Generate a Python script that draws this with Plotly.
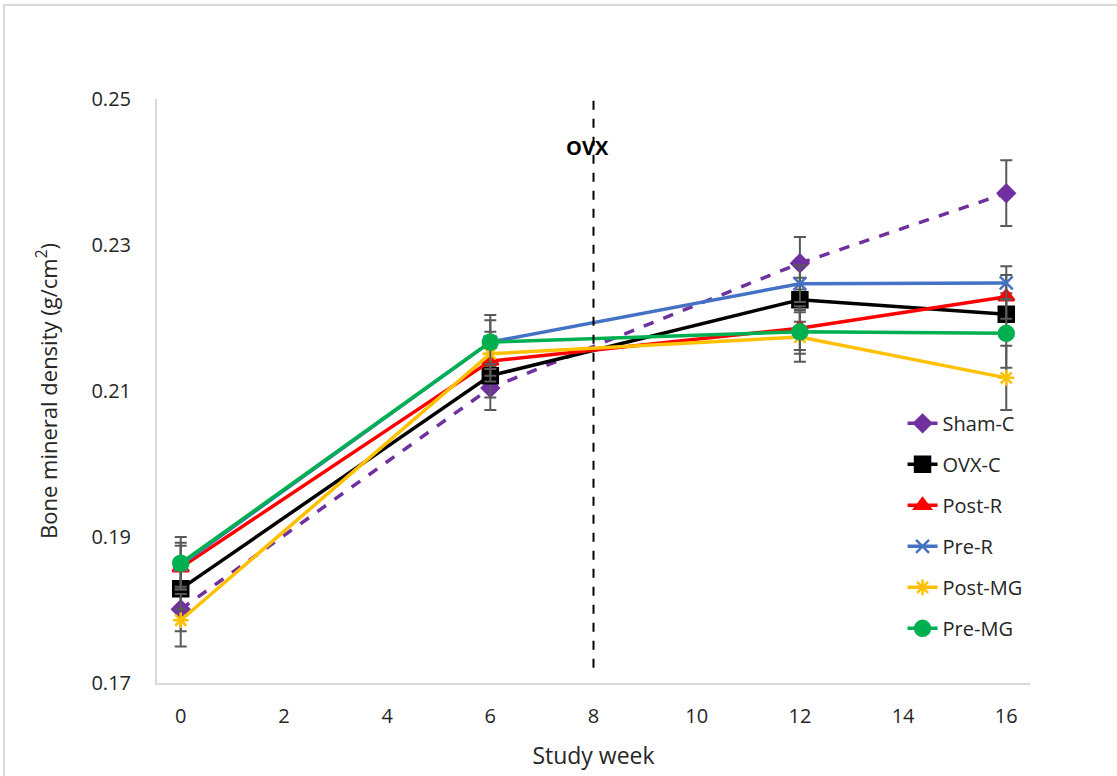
import plotly.graph_objects as go

# Study weeks at which BMD was measured
weeks = [0, 6, 12, 16]

# Mean bone mineral density (g/cm^2) per group
sham_c = [0.1801, 0.2104, 0.2275, 0.2371]
ovx_c = [0.1829, 0.2121, 0.2225, 0.2205]
post_r = [0.1858, 0.2141, 0.2186, 0.2229]
pre_r = [0.1862, 0.2167, 0.2247, 0.2248]
post_mg = [0.1786, 0.2151, 0.2174, 0.2118]
pre_mg = [0.1864, 0.2167, 0.2181, 0.2179]

# Standard errors per group
sham_c_err = [0.0030, 0.0030, 0.0036, 0.0045]
ovx_c_err = [0.0028, 0.0030, 0.0030, 0.0029]
post_r_err = [0.0030, 0.0028, 0.0030, 0.0030]
pre_r_err = [0.0030, 0.0030, 0.0025, 0.0023]
post_mg_err = [0.0036, 0.0030, 0.0034, 0.0044]
pre_mg_err = [0.0036, 0.0037, 0.0030, 0.0047]

ovx_week = 8
ovx_label = "OVX"

series = [
    ("Sham-C", sham_c, sham_c_err, "#7030A0", "diamond", 13, "dash"),
    ("OVX-C", ovx_c, ovx_c_err, "#000000", "square", 15, "solid"),
    ("Post-R", post_r, post_r_err, "#FF0000", "triangle-up", 14, "solid"),
    ("Pre-R", pre_r, pre_r_err, "#4472C4", "x-thin-open", 13, "solid"),
    ("Post-MG", post_mg, post_mg_err, "#FFC000", "asterisk-open", 13, "solid"),
    ("Pre-MG", pre_mg, pre_mg_err, "#00B050", "circle", 15, "solid"),
]

fig = go.Figure()
for name, vals, errs, color, symbol, size, dash in series:
    fig.add_trace(go.Scatter(
        x=weeks, y=vals, name=name, legendgroup=name, mode="lines+markers",
        line=dict(color=color, width=3.5, dash=dash),
        marker=dict(symbol=symbol, size=size, color=color,
                    line=dict(color=color, width=2.5)),
        error_y=dict(type="data", array=errs, visible=True,
                     color="#595959", thickness=2, width=6),
    ))

# OVX surgery marker
fig.add_shape(type="line", xref="x", yref="paper",
              x0=ovx_week, x1=ovx_week, y0=0.026, y1=1.012,
              line=dict(color="#000000", width=2, dash="dash"))
fig.add_annotation(x=ovx_week, y=0.2434, xref="x", yref="y",
                   text="<b>" + ovx_label + "</b>", showarrow=False,
                   font=dict(size=20, color="#000000"), xanchor="right",
                   xshift=17)

# light chart-area frame
fig.add_shape(type="rect", xref="paper", yref="paper",
              x0=-0.1753, x1=1.3, y0=-0.3, y1=1.161,
              line=dict(color="#D9D9D9", width=2), layer="below")

fig.update_layout(
    width=1117, height=776,
    margin=dict(l=157, r=87, t=99, b=93, autoexpand=False),
    paper_bgcolor="white", plot_bgcolor="white",
    font=dict(family="Open Sans", size=20, color="#404040"),
    legend=dict(x=0.854, y=0.478, xanchor="left", yanchor="top",
                bgcolor="rgba(0,0,0,0)", font=dict(size=20, color="#262626"),
                tracegroupgap=12),
    xaxis=dict(range=[-0.46, 16.46], tickvals=list(range(0, 17, 2)),
               showgrid=False, zeroline=False, showline=True,
               linecolor="#D9D9D9", linewidth=2, ticks="",
               ticklabelstandoff=14, automargin=False,
               title=dict(text="Study week", font=dict(size=23, color="#262626"),
                          standoff=20),
               tickfont=dict(size=20, color="#262626")),
    yaxis=dict(range=[0.17, 0.25], tickvals=[0.17, 0.19, 0.21, 0.23, 0.25],
               tickformat=".2f",
               showgrid=False, zeroline=False, showline=True,
               linecolor="#D9D9D9", linewidth=2, ticks="",
               ticklabelstandoff=20, automargin=False,
               title=dict(text="Bone mineral density (g/cm<sup>2</sup>)",
                          font=dict(size=22, color="#262626"), standoff=28),
               tickfont=dict(size=20, color="#262626")),
)

fig.write_html("out.html")
